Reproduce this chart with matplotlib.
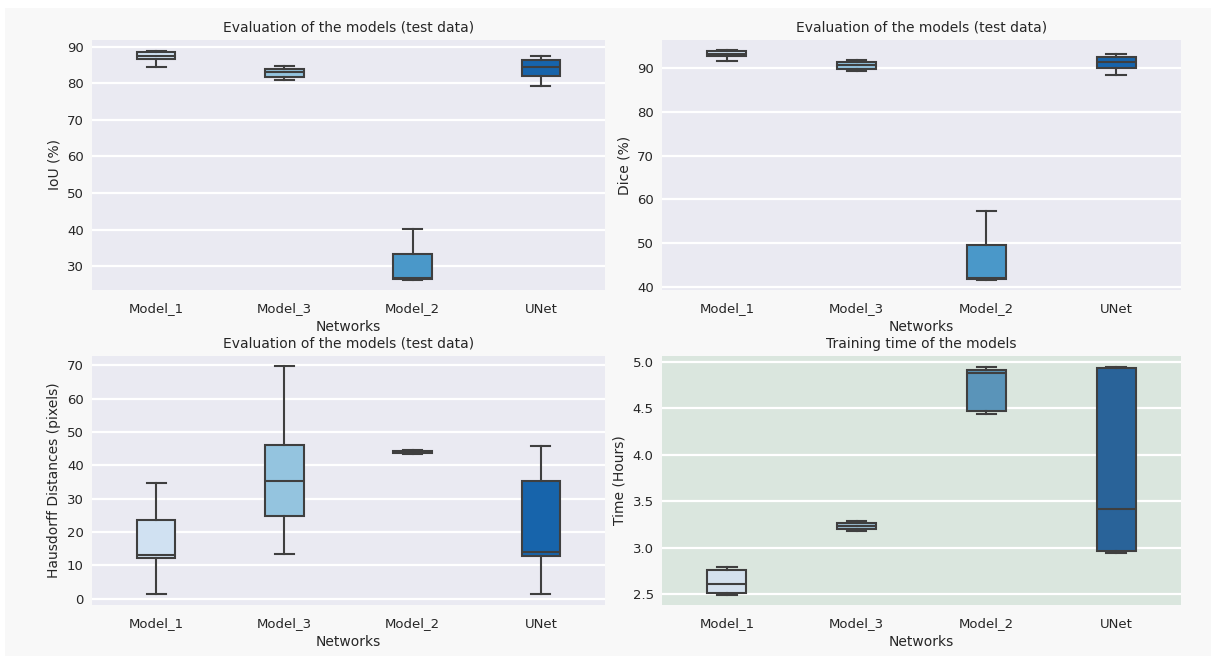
import colorsys
import matplotlib
matplotlib.use("Agg")
import matplotlib.pyplot as plt
import matplotlib.colors as mcolors
from matplotlib.patches import Rectangle

# --- data (box statistics) ---
networks = ["Model_1", "Model_3", "Model_2", "UNet"]

# each entry: whislo, q1, med, q3, whishi
iou = [
    [84.5, 86.5, 87.4, 88.5, 88.9],
    [80.8, 81.8, 83.1, 83.9, 84.8],
    [26.2, 26.5, 26.7, 33.4, 40.3],
    [79.3, 81.9, 84.5, 86.3, 87.5],
]
dice = [
    [91.6, 92.6, 93.2, 93.7, 94.0],
    [89.2, 89.8, 90.5, 91.2, 91.7],
    [41.6, 42.0, 42.2, 49.7, 57.3],
    [88.4, 90.0, 91.4, 92.5, 93.2],
]
hausdorff = [
    [1.3, 12.1, 13.1, 23.5, 34.6],
    [13.3, 24.7, 35.4, 46.1, 69.7],
    [43.4, 43.7, 44.1, 44.4, 44.7],
    [1.4, 12.7, 14.1, 35.2, 45.8],
]
train_time = [
    [2.493, 2.507, 2.61, 2.755, 2.79],
    [3.18, 3.20, 3.23, 3.26, 3.29],
    [4.44, 4.47, 4.88, 4.917, 4.95],
    [2.94, 2.96, 3.41, 4.935, 4.95],
]

blues = ["#d0e1f2", "#94c4df", "#4a98c9", "#1764ab"]


def desat(c, s=0.75):
    r, g, b = mcolors.to_rgb(c)
    h, l, sat = colorsys.rgb_to_hls(r, g, b)
    return colorsys.hls_to_rgb(h, l, sat * s)


def draw_panel(ax, stats, colors, title, ylabel, ylim, yticks, bg):
    ax.set_facecolor(bg)
    for s in ax.spines.values():
        s.set_visible(False)
    ax.grid(True, axis="y", color="white", linewidth=1.6)
    ax.set_axisbelow(True)
    bstats = []
    for name, (lo, q1, med, q3, hi) in zip(networks, stats):
        bstats.append(dict(label=name, whislo=lo, q1=q1, med=med, q3=q3, whishi=hi, fliers=[]))
    edge = "#3f3f3f"
    res = ax.bxp(bstats, positions=range(len(networks)), widths=0.3, patch_artist=True,
                 showfliers=False,
                 boxprops=dict(edgecolor=edge, linewidth=1.5),
                 whiskerprops=dict(color=edge, linewidth=1.5),
                 capprops=dict(color=edge, linewidth=1.5),
                 medianprops=dict(color=edge, linewidth=1.5))
    for patch, c in zip(res["boxes"], colors):
        patch.set_facecolor(c)
    ax.set_xlim(-0.5, len(networks) - 0.5)
    ax.set_ylim(*ylim)
    ax.set_yticks(yticks)
    ax.set_xticks(range(len(networks)))
    ax.set_xticklabels(networks)
    ax.tick_params(axis="x", length=0, labelsize=9.5, colors="#262626", pad=9)
    ax.tick_params(axis="y", length=0, labelsize=9.5, colors="#262626", pad=6)
    ax.set_title(title, fontsize=10, color="#262626", pad=6)
    ax.set_xlabel("Networks", fontsize=10, color="#262626", labelpad=3)
    ax.set_ylabel(ylabel, fontsize=10, color="#262626", labelpad=4)


fig = plt.figure(figsize=(12.11, 6.56), dpi=100, facecolor="white")
fig.patches.append(Rectangle((5 / 1211, 0), 1 - 5 / 1211, 1 - 8 / 656,
                             transform=fig.transFigure, facecolor="#f8f8f8",
                             edgecolor="none", zorder=-10))

ax1 = fig.add_axes([92 / 1211, 1 - 290 / 656, 513 / 1211, 250 / 656])
ax2 = fig.add_axes([662 / 1211, 1 - 290 / 656, 519 / 1211, 250 / 656])
ax3 = fig.add_axes([92 / 1211, 1 - 605 / 656, 513 / 1211, 249 / 656])
ax4 = fig.add_axes([662 / 1211, 1 - 605 / 656, 519 / 1211, 249 / 656])

title = "Evaluation of the models (test data)"
draw_panel(ax1, iou, blues, title, "IoU (%)", (23.5, 91.8), range(30, 91, 10), "#eaeaf2")
draw_panel(ax2, dice, blues, title, "Dice (%)", (39.4, 96.3), range(40, 91, 10), "#eaeaf2")
draw_panel(ax3, hausdorff, blues, title, "Hausdorff Distances (pixels)", (-1.9, 72.8),
           range(0, 71, 10), "#eaeaf2")
draw_panel(ax4, train_time, [desat(c) for c in blues], "Training time of the models",
           "Time (Hours)", (2.38, 5.065), [2.5, 3.0, 3.5, 4.0, 4.5, 5.0], "#dae6de")

fig.savefig("out.png", dpi=100, facecolor=fig.get_facecolor())
